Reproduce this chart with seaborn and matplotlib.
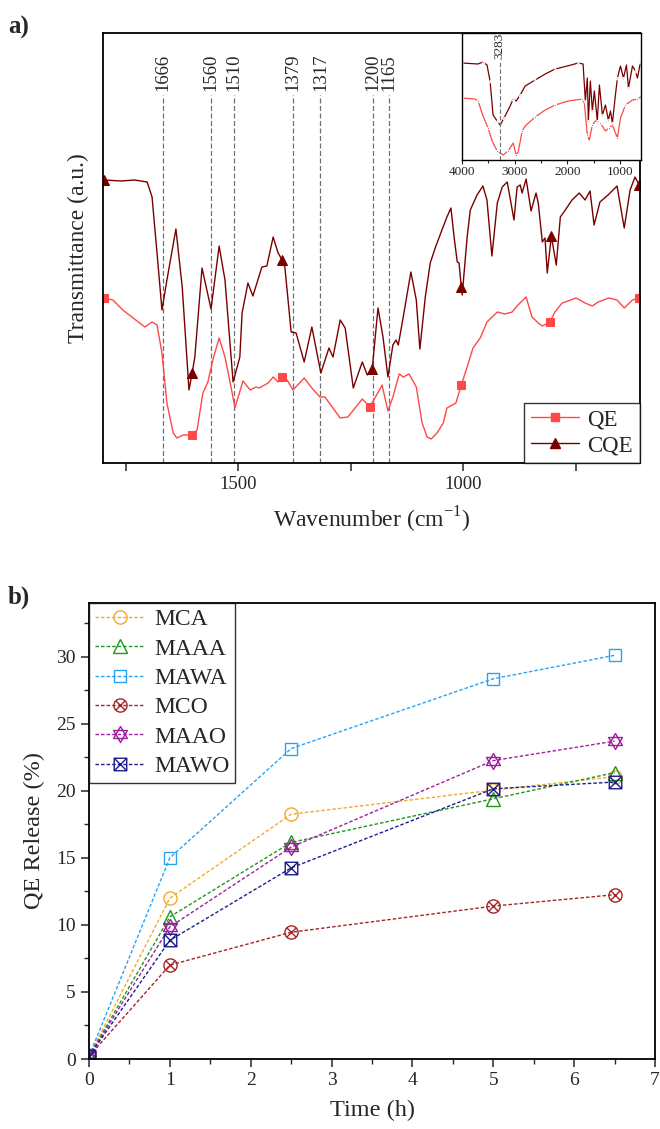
import numpy as np
import matplotlib
matplotlib.use("Agg")
import matplotlib.pyplot as plt
from matplotlib.path import Path
from matplotlib.lines import Line2D
import seaborn as sns

sns.set_theme(style="ticks")
plt.rcParams["font.family"] = ["Liberation Serif", "DejaVu Serif"]
plt.rcParams["mathtext.fontset"] = "custom"
plt.rcParams["mathtext.rm"] = "Liberation Serif"
plt.rcParams["xtick.direction"] = "out"
plt.rcParams["ytick.direction"] = "out"

# ---------------- FTIR data (main panel) ----------------
QE_WN = [1798, 1778, 1756, 1733, 1707, 1691, 1680, 1669, 1658, 1644, 1636, 1622, 1602, 1591,
         1578, 1567, 1556, 1542, 1529, 1513, 1507, 1489, 1473, 1460, 1453, 1433, 1422, 1411,
         1402, 1391, 1378, 1353, 1336, 1318, 1307, 1273, 1256, 1224, 1207, 1180, 1167, 1156,
         1142, 1133, 1120, 1104, 1091, 1080, 1071, 1058, 1044, 1036, 1024, 1016, 1004, 991,
         978, 962, 947, 924, 907, 891, 878, 860, 847, 833, 824, 807, 796, 780, 767, 749, 729,
         713, 700, 676, 658, 642, 624, 609]
QE_T = [165, 163, 153, 145, 136, 141, 138, 110, 60, 30, 25, 28, 28, 33,
        70, 81, 103, 125, 106, 70, 55, 82, 73, 76, 75, 80, 86, 81,
        86, 83, 73, 85, 75, 66, 66, 45, 46, 64, 56, 78, 52, 66,
        89, 86, 89, 76, 40, 26, 24, 30, 40, 55, 58, 60, 78, 96,
        115, 125, 141, 151, 149, 151, 158, 166, 146, 140, 137, 141, 151, 160, 162, 165, 160,
        157, 161, 165, 163, 155, 163, 165]

CQE_WN = [1798, 1760, 1730, 1702, 1691, 1680, 1669, 1658, 1638, 1624, 1609, 1602, 1596, 1580,
          1560, 1542, 1529, 1511, 1496, 1491, 1478, 1467, 1447, 1436, 1422, 1411, 1402, 1396,
          1382, 1371, 1353, 1336, 1316, 1298, 1289, 1273, 1262, 1244, 1224, 1213, 1202, 1189,
          1178, 1167, 1156, 1149, 1144, 1133, 1116, 1104, 1096, 1084, 1073, 1062, 1047, 1036,
          1027, 1020, 1013, 1009, 1004, 1002, 991, 984, 969, 956, 947, 936, 924, 913, 902, 896,
          887, 880, 873, 869, 860, 849, 838, 833, 824, 818, 813, 804, 793, 784, 773, 758, 742,
          729, 718, 709, 696, 678, 658, 642, 629, 618, 609]
CQE_T = [283, 282, 283, 281, 266, 210, 153, 183, 234, 176, 73, 90, 106, 195,
         154, 217, 183, 81, 106, 150, 180, 167, 196, 197, 226, 210, 203, 196,
         131, 130, 101, 136, 90, 115, 106, 143, 135, 75, 101, 88, 94, 155,
         126, 86, 118, 123, 118, 146, 191, 163, 114, 166, 200, 215, 233, 246,
         255, 226, 201, 200, 176, 168, 226, 253, 268, 277, 263, 207, 260, 276, 281, 266,
         243, 276, 278, 270, 284, 252, 270, 260, 221, 225, 190, 227, 198, 246, 253, 263, 270,
         263, 272, 238, 261, 268, 277, 235, 273, 286, 278]

QE_MARK_WN = [1798, 1602, 1402, 1207, 1004, 807, 609]
CQE_MARK_WN = [1798, 1602, 1402, 1202, 1004, 804, 609]

PEAKS = [1666, 1560, 1510, 1379, 1317, 1200, 1165]

# ---------------- FTIR data (inset, full range) ----------------
IN_CQE_WN = [4000, 3700, 3600, 3525, 3467, 3410, 3333, 3276, 3200, 3086, 3028, 2971, 2895,
             2800, 2610, 2420, 2230, 2000, 1790, 1700, 1657, 1620, 1600, 1562, 1524, 1486,
             1430, 1390, 1333, 1276, 1219, 1180, 1143, 1086, 1048, 990, 933, 876, 838, 762,
             705, 667, 610]
IN_CQE_T = [97, 96, 98, 95, 79, 45, 39, 35, 42, 54, 61, 59, 65,
            74, 80, 86, 91, 94, 97, 96, 59, 82, 39, 79, 49, 69,
            39, 75, 45, 55, 40, 49, 37, 65, 82, 94, 82, 95, 72, 94,
            89, 82, 98]
IN_QE_WN = [4000, 3752, 3695, 3600, 3505, 3428, 3333, 3219, 3124, 3028, 2971, 2933, 2857,
            2800, 2610, 2420, 2230, 1981, 1714, 1676, 1620, 1581, 1524, 1467, 1371, 1276,
            1200, 1143, 1048, 990, 895, 762, 667, 610]
IN_QE_T = [62, 61, 59, 44, 32, 19, 9, 5, 9, 17, 5, 8, 29,
           34, 43, 50, 55, 59, 61, 57, 25, 20, 35, 39, 37, 29,
           32, 35, 22, 42, 55, 60, 61, 63]
IN_PEAK = 3283

# ---------------- Release data ----------------
TIME = [0, 1, 2.5, 5, 6.5]
SERIES = ["MCA", "MAAA", "MAWA", "MCO", "MAAO", "MAWO"]
MCA = [0.2, 12.0, 18.25, 20.05, 21.05]
MAAA = [0.2, 10.6, 16.15, 19.4, 21.35]
MAWA = [0.2, 15.0, 23.15, 28.35, 30.1]
MCO = [0.2, 7.0, 9.45, 11.4, 12.25]
MAAO = [0.2, 9.85, 15.8, 22.25, 23.7]
MAWO = [0.2, 8.85, 14.25, 20.15, 20.65]

QE_COLOR = "#ff4848"
CQE_COLOR = "#7a0000"
COLORS = ["#f2aa2e", "#1e961e", "#25a4f5", "#a52525", "#a01ea0", "#1c1c8c"]

# custom markers
circle_x = Path.make_compound_path(
    Path.unit_circle(),
    Path([(-0.707, -0.707), (0.707, 0.707)], [Path.MOVETO, Path.LINETO]),
    Path([(-0.707, 0.707), (0.707, -0.707)], [Path.MOVETO, Path.LINETO]))
square_x = Path.make_compound_path(
    Path([(-1, -1), (1, -1), (1, 1), (-1, 1), (-1, -1)],
         [Path.MOVETO, Path.LINETO, Path.LINETO, Path.LINETO, Path.CLOSEPOLY]),
    Path([(-1, -1), (1, 1)], [Path.MOVETO, Path.LINETO]),
    Path([(-1, 1), (1, -1)], [Path.MOVETO, Path.LINETO]))
hexa = Path.make_compound_path(
    Path([(0, 1), (-0.866, -0.5), (0.866, -0.5), (0, 1)],
         [Path.MOVETO, Path.LINETO, Path.LINETO, Path.CLOSEPOLY]),
    Path([(0, -1), (-0.866, 0.5), (0.866, 0.5), (0, -1)],
         [Path.MOVETO, Path.LINETO, Path.LINETO, Path.CLOSEPOLY]))
MARKERS = ["o", "^", "s", circle_x, hexa, square_x]
MSIZES = [9.5, 10, 9, 9.5, 11.5, 9]

fig = plt.figure(figsize=(6.6, 11.29), dpi=100)

# ================= Panel a =================
ax = fig.add_axes([103 / 660, 1 - 463 / 1129, 537 / 660, 430 / 1129])


def nearest_idx(wn, marks):
    arr = np.asarray(wn)
    return [int(np.argmin(np.abs(arr - m))) for m in marks]


sns.lineplot(x=QE_WN, y=QE_T, ax=ax, sort=False, estimator=None, color=QE_COLOR,
             lw=1.0, marker="s", ms=6, mec=QE_COLOR, mfc=QE_COLOR,
             markevery=nearest_idx(QE_WN, QE_MARK_WN))
sns.lineplot(x=CQE_WN, y=CQE_T, ax=ax, sort=False, estimator=None, color=CQE_COLOR,
             lw=1.0, marker="^", ms=7, mec=CQE_COLOR, mfc=CQE_COLOR,
             markevery=nearest_idx(CQE_WN, CQE_MARK_WN))

ax.set_xlim(1800, 607)
ax.set_ylim(0, 430)
ax.vlines(PEAKS, 0, 368, colors="#707070", linestyles=(0, (4, 2)), lw=0.9, zorder=1)
for p in PEAKS:
    ax.text(p, 372, str(p), rotation=90, ha="center", va="bottom", fontsize=13.5)

ax.set_xticks([1500, 1000])
ax.set_xticks([1750, 1250, 750], minor=True)
ax.set_yticks([])
ax.tick_params(axis="x", labelsize=13.5, length=6, width=1.1)
ax.tick_params(axis="x", which="minor", length=6, width=1.1)
for s in ax.spines.values():
    s.set_linewidth(1.3)
    s.set_color("black")
ax.set_xlabel("Wavenumber (cm$^{-1}$)", fontsize=17, labelpad=8)
ax.set_ylabel("Transmittance (a.u.)", fontsize=17, labelpad=10)

h_a = [Line2D([], [], color=QE_COLOR, lw=1.0, marker="s", ms=6),
       Line2D([], [], color=CQE_COLOR, lw=1.0, marker="^", ms=7)]
leg = ax.legend(h_a, ["QE", "CQE"], loc="lower right", fontsize=16.5, frameon=True,
                fancybox=False, edgecolor="black", borderaxespad=0, handlelength=2.1,
                labelspacing=0.2, borderpad=0.3, handletextpad=0.35)
leg.get_frame().set_linewidth(1.0)

# inset
axi = fig.add_axes([462 / 660, 1 - 160 / 1129, 179 / 660, 127 / 1129])
sns.lineplot(x=IN_QE_WN, y=IN_QE_T, ax=axi, sort=False, estimator=None, color=QE_COLOR,
             lw=0.9, marker="s", ms=1.6, markevery=2)
sns.lineplot(x=IN_CQE_WN, y=IN_CQE_T, ax=axi, sort=False, estimator=None, color=CQE_COLOR,
             lw=0.9, marker="^", ms=1.8, markevery=2)
axi.set_xlim(4000, 600)
axi.set_ylim(0, 127)
axi.vlines([IN_PEAK], 0, 99, colors="#707070", linestyles=(0, (4, 2)), lw=0.8)
axi.text(IN_PEAK, 101, str(IN_PEAK), rotation=90, ha="center", va="bottom", fontsize=9.5)
axi.set_xticks([4000, 3000, 2000, 1000])
axi.set_xticks([3500, 2500, 1500], minor=True)
axi.set_yticks([])
axi.tick_params(axis="x", labelsize=9.5, length=3, width=0.8, pad=1.5)
axi.tick_params(axis="x", which="minor", length=2, width=0.8)
for s in axi.spines.values():
    s.set_linewidth(1.0)
    s.set_color("black")

fig.text(0.012, 0.976, "a)", fontsize=18, fontweight="bold", va="center", ha="left")

# ================= Panel b =================
bx = fig.add_axes([89 / 660, 1 - 1059 / 1129, 566 / 660, 456 / 1129])
VALUES = [MCA, MAAA, MAWA, MCO, MAAO, MAWO]
handles = []
for name, vals, c, m, ms in zip(SERIES, VALUES, COLORS, MARKERS, MSIZES):
    sns.lineplot(x=TIME, y=vals, ax=bx, sort=False, estimator=None, color=c,
                 lw=1.0, linestyle=(0, (2.5, 1.5)), marker=m, ms=ms, mfc="none",
                 mec=c, mew=1.0)
    handles.append(Line2D([], [], color=c, lw=1.0, linestyle=(0, (2.5, 1.5)), marker=m,
                          ms=ms, mfc="none", mec=c, mew=1.0))

bx.set_xlim(0, 7)
bx.set_ylim(0, 34)
bx.set_xticks(range(0, 8))
bx.set_xticks(np.arange(0.5, 7, 1.0), minor=True)
bx.set_yticks([0, 5, 10, 15, 20, 25, 30])
bx.set_yticks(np.arange(2.5, 34, 5), minor=True)
bx.tick_params(axis="both", labelsize=14, length=6, width=1.1)
bx.tick_params(axis="both", which="minor", length=3.5, width=1.0)
for s in bx.spines.values():
    s.set_linewidth(1.3)
    s.set_color("black")
bx.set_xlabel("Time (h)", fontsize=17.5, labelpad=8)
bx.set_ylabel("QE Release (%)", fontsize=17.5, labelpad=8)
leg2 = bx.legend(handles, SERIES, loc="upper left", fontsize=17, frameon=True,
                 fancybox=False, edgecolor="black", borderaxespad=0, handlelength=2.1,
                 labelspacing=0.33, borderpad=0.25, handletextpad=0.4)
leg2.get_frame().set_linewidth(1.0)

fig.text(0.012, 0.471, "b)", fontsize=18, fontweight="bold", va="center", ha="left")

fig.savefig("out.png", dpi=100)
